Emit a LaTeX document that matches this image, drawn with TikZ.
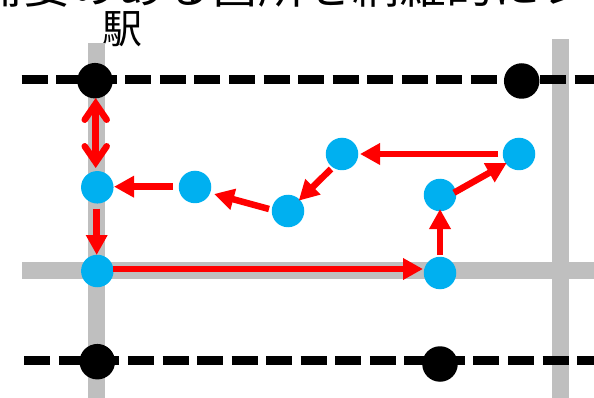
\documentclass[tikz,border=0pt]{standalone}
\usepackage{fontspec}
\newfontfamily\cjk{Noto Sans CJK JP}
\usetikzlibrary{arrows.meta}
\definecolor{stopblue}{RGB}{0,176,240}
\definecolor{roadgray}{RGB}{191,191,191}
\tikzset{
  road/.style={line width=17pt,draw=roadgray},
  rail/.style={line width=9pt,draw=black,dash pattern=on 26pt off 8.55pt},
  stopdot/.style={circle,fill=stopblue,minimum size=32.5pt,inner sep=0pt},
  stationdot/.style={circle,fill=black,minimum size=35.5pt,inner sep=0pt},
  route/.style={draw=red,line width=6.5pt,-{Triangle[length=20pt,width=20.5pt]}},
  wide/.style={draw=red,line width=6.5pt,{Straight Barb[length=16pt,width=22pt,line cap=round]}-{Straight Barb[length=16pt,width=22pt,line cap=round]}}
}
\begin{document}
\begin{tikzpicture}[x=1pt,y=-1pt]
\useasboundingbox (0,0) rectangle (594,398);
\clip (0,0) rectangle (594,398);
\node[font=\cjk\fontsize{47}{47}\selectfont,anchor=base west,inner sep=0pt] (title) at (-24,4) {需要のある箇所を網羅的にレビュー};
\node[font=\cjk\fontsize{40}{40}\selectfont,anchor=center,inner sep=0pt] (eki) at (122,29.5) {駅};
\coordinate (v1t) at (96.8,42.7); \coordinate (v1b) at (96.8,398);
\coordinate (v2t) at (560,39.3); \coordinate (v2b) at (560,398);
\coordinate (h1l) at (22,270.7); \coordinate (h1r) at (594,270.7);
\draw[road] (v1t) -- (v1b);
\draw[road] (v2t) -- (v2b);
\draw[road] (h1l) -- (h1r);
\coordinate (r1l) at (21.7,79.3); \coordinate (r1r) at (594,79.3);
\coordinate (r2l) at (24.3,360); \coordinate (r2r) at (594,360);
\draw[rail] (r1l) -- (r1r);
\draw[rail] (r2l) -- (r2r);
\node[stationdot] (s1) at (95,80.7) {};
\node[stationdot] (s2) at (521.7,81) {};
\node[stationdot] (s3) at (97.3,361.7) {};
\node[stationdot] (s4) at (440,364) {};
\node[stopdot] (a) at (97.3,187.3) {};
\node[stopdot] (b) at (97.3,271) {};
\node[stopdot] (c) at (440,273) {};
\node[stopdot] (d) at (440,195) {};
\node[stopdot] (e) at (519,154) {};
\node[stopdot] (f) at (342,154) {};
\node[stopdot] (g) at (288,211) {};
\node[stopdot] (h) at (195,187) {};
% connector ends sit just off the dots, as in the picture
\coordinate (s1a) at (95.7,98); \coordinate (as1) at (95.7,168);
\coordinate (ab) at (96.7,208.7); \coordinate (ba) at (96.7,255);
\coordinate (bc) at (113,269); \coordinate (cb) at (423,269);
\coordinate (cd) at (440,255); \coordinate (dc) at (440,209);
\coordinate (de) at (454,192.7); \coordinate (ed) at (506.7,163);
\coordinate (ef) at (498,154); \coordinate (fe) at (360,154);
\coordinate (fg) at (331,169); \coordinate (gf) at (298.7,200.7);
\coordinate (gh) at (269,209); \coordinate (hg) at (214,194);
\coordinate (ha) at (173,186.7); \coordinate (ah) at (114,186.7);
\draw[wide] (s1a) -- (as1);
\draw[route] (ab) -- (ba);
\draw[route] (bc) -- (cb);
\draw[route] (cd) -- (dc);
\draw[route] (de) -- (ed);
\draw[route] (ef) -- (fe);
\draw[route] (fg) -- (gf);
\draw[route] (gh) -- (hg);
\draw[route] (ha) -- (ah);
\end{tikzpicture}
\end{document}
